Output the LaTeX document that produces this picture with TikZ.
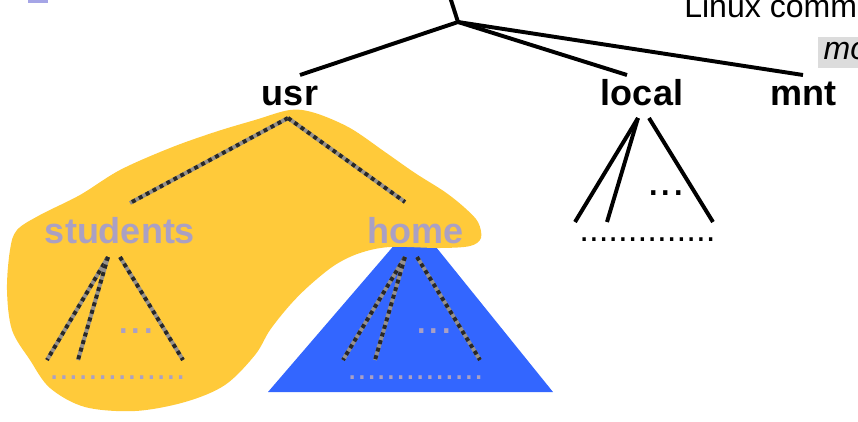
\documentclass[tikz,border=0pt]{standalone}
\usepackage{fontspec}
\setmainfont{Liberation Sans}
\usetikzlibrary{positioning}
\definecolor{blobyellow}{RGB}{255,202,58}
\definecolor{homeblue}{RGB}{51,102,255}
\definecolor{fadedlabel}{RGB}{170,160,196}
\definecolor{boxgrey}{RGB}{220,220,220}
\definecolor{edgegrey}{RGB}{150,145,140}
\definecolor{edgedark}{RGB}{40,40,40}
\definecolor{barlilac}{RGB}{165,165,230}

\tikzset{
  dirlabel/.style={font=\fontsize{25.6}{30}\selectfont\bfseries, inner sep=0pt, anchor=base},
  plainedge/.style={line width=2.8pt},
  hiddenedge/.style={line width=2.8pt, draw=edgedark, dash pattern=on 2.8pt off 2.8pt,
    preaction={draw=edgegrey, line width=2.8pt}},
  dotrow/.style={font=\fontsize{24.9}{30}\selectfont, inner sep=0pt, anchor=base west},
  dotgap/.style={font=\fontsize{32}{36}\selectfont, inner sep=0pt, anchor=base west}
}

\begin{document}
\begin{tikzpicture}[x=0.025cm, y=-0.025cm]
    \useasboundingbox (0,0) rectangle (858,422);
    \clip (0,0) rectangle (858,422);

    % header bits at the top
    \fill[barlilac] (28,0) rectangle (48,3);
    \node[font=\fontsize{22.8}{27}\selectfont, inner sep=0pt, anchor=base west] (title) at (684,17) {Linux comm};
    \node[fill=boxgrey, font=\fontsize{22.8}{27}\selectfont\itshape, inner sep=0pt,
          minimum height=31*0.025cm, anchor=north west, text depth=0.3em] (cmd) at (818,37) {\,mo};

    % highlighted areas
    \fill[homeblue] (415,221) -- (268,392) -- (553,392) -- cycle;
    \fill[blobyellow] plot[smooth cycle, tension=0.55] coordinates {
        (290,110) (315,113) (350,128) (385,152) (415,173) (445,192) (465,208)
        (478,222) (481,238) (470,246) (440,248) (390,247) (360,253) (335,265)
        (310,285) (290,305) (270,330) (255,355) (225,385) (185,402) (135,411)
        (85,407) (50,388) (30,360) (12,330) (7,290) (10,250) (17,230) (40,215)
        (80,195) (120,170) (170,148) (215,132) (255,120)};

    % labels
    \node[dirlabel] (usr) at (290,105) {usr};
    \node[dirlabel] (local) at (642,105) {local};
    \node[dirlabel] (mnt) at (803,105) {mnt};
    \node[dirlabel, text=fadedlabel] (students) at (120,243) {students};
    \node[dirlabel, text=fadedlabel] (home) at (416,243) {home};

    % end points of the edges
    \coordinate (root) at (458,22);
    \coordinate (rootup) at (450,-3);
    \coordinate (usr-in) at (300,75);
    \coordinate (local-in) at (627,75);
    \coordinate (mnt-in) at (803,75);
    \coordinate (usr-out) at (288,118);
    \coordinate (students-in) at (130,203);
    \coordinate (home-in) at (405,202);

    % top level
    \draw[plainedge] (rootup) -- (root);
    \draw[plainedge] (root) -- (usr-in);
    \draw[plainedge] (root) -- (local-in);
    \draw[plainedge] (root) -- (mnt-in);

    % below usr
    \draw[hiddenedge] (usr-out) -- (students-in);
    \draw[hiddenedge] (usr-out) -- (home-in);

    % students subtree
    \coordinate (s-a) at (108,257);
    \coordinate (s-b) at (120,257);
    \draw[hiddenedge] (s-a) -- (47,360);
    \draw[hiddenedge] (s-a) -- (78,360);
    \draw[hiddenedge] (s-b) -- (183,360);
    \node[dotgap, text=fadedlabel] (s-dots) at (117,333) {...};
    \node[dotrow, text=fadedlabel] (s-row) at (49,379) {..............};

    % home subtree
    \coordinate (h-a) at (405,257);
    \coordinate (h-b) at (417,257);
    \draw[hiddenedge] (h-a) -- (343,360);
    \draw[hiddenedge] (h-a) -- (375,360);
    \draw[hiddenedge] (h-b) -- (480,360);
    \node[dotgap, text=fadedlabel] (h-dots) at (415,333) {...};
    \node[dotrow, text=fadedlabel] (h-row) at (347,379) {..............};

    % local subtree
    \coordinate (l-a) at (638,118);
    \coordinate (l-b) at (649,118);
    \draw[plainedge] (l-a) -- (575,222);
    \draw[plainedge] (l-a) -- (607,222);
    \draw[plainedge] (l-b) -- (713,222);
    \node[dotgap] (l-dots) at (647,195) {...};
    \node[dotrow] (l-row) at (579,241) {..............};
\end{tikzpicture}
\end{document}
